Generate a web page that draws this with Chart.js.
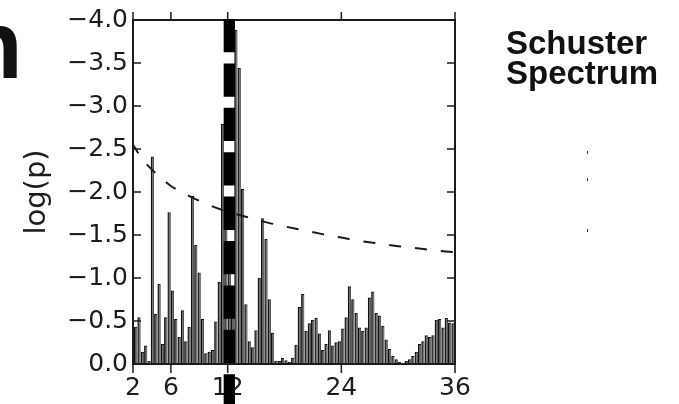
<!DOCTYPE html>
<html>
<head>
<meta charset="utf-8">
<script src="https://cdn.jsdelivr.net/npm/chart.js@4.4.1/dist/chart.umd.min.js"></script>
<style>
  html, body { margin: 0; padding: 0; background: #fff; }
  #wrap { position: relative; width: 679px; height: 404px; overflow: hidden; }
  canvas { position: absolute; left: 0; top: 0; }
  .side-title { position: absolute; left: 506px; top: 28px; font: bold 33px/30px 'Liberation Sans', Arial, sans-serif; color: #111; }
  .cut-letter { position: absolute; left: -36px; top: -3px; font: bold 96px/96px 'Liberation Sans', Arial, sans-serif; color: #111; }
  .speck { position: absolute; left: 587px; width: 1px; height: 3px; background: #333; }
</style>
</head>
<body>
<div id="wrap">
  <canvas id="spectrum" width="679" height="404"></canvas>
  <div class="cut-letter">n</div>
  <div class="side-title">Schuster<br>Spectrum</div>
  <div class="speck" style="top:151px"></div>
  <div class="speck" style="top:178px"></div>
  <div class="speck" style="top:229px"></div>
</div>
<script>
// periods of the spectrum bars (x) and their log(p) values
const periods = [
  2.28, 2.63, 2.99, 3.34, 3.69, 4.04, 4.40, 4.75, 5.10, 5.45, 5.81, 6.16,
  6.51, 6.87, 7.22, 7.57, 7.92, 8.28, 8.63, 8.98, 9.33, 9.69, 10.04, 10.39,
  10.74, 11.10, 11.45, 11.80, 12.16, 12.51, 12.86, 13.21, 13.57, 13.92, 14.27, 14.62,
  14.98, 15.33, 15.68, 16.04, 16.39, 16.74, 17.09, 17.45, 17.80, 18.15, 18.50, 18.86,
  19.21, 19.56, 19.92, 20.27, 20.62, 20.97, 21.33, 21.68, 22.03, 22.38, 22.74, 23.09,
  23.44, 23.79, 24.15, 24.50, 24.85, 25.21, 25.56, 25.91, 26.26, 26.62, 26.97, 27.32,
  27.67, 28.03, 28.38, 28.73, 29.09, 29.44, 29.79, 30.14, 30.50, 30.85, 31.20, 31.55,
  31.91, 32.26, 32.61, 32.96, 33.32, 33.67, 34.02, 34.38, 34.73, 35.08, 35.43, 35.79
];
const logP = [
  -0.43, -0.54, -0.14, -0.21, -0.03, -2.41, -0.58, -0.93, -0.23, -0.54, -1.76, -0.85,
  -0.52, -0.31, -0.62, -0.26, -0.43, -1.95, -1.38, -1.06, -0.52, -0.12, -0.14, -0.16,
  -0.49, -0.95, -2.79, -1.75, -1.10, -0.60, -3.88, -3.44, -2.03, -0.69, -0.26, -0.19,
  -0.39, -1.00, -1.69, -1.45, -0.75, -0.36, -0.03, -0.03, -0.07, -0.04, -0.02, -0.07,
  -0.22, -0.66, -0.81, -0.38, -0.47, -0.51, -0.53, -0.35, -0.16, -0.23, -0.39, -0.21,
  -0.25, -0.26, -0.41, -0.54, -0.90, -0.75, -0.59, -0.42, -0.38, -0.42, -0.77, -0.84,
  -0.59, -0.56, -0.44, -0.28, -0.17, -0.09, -0.05, -0.02, -0.01, -0.03, -0.05, -0.09,
  -0.14, -0.23, -0.26, -0.33, -0.31, -0.33, -0.51, -0.52, -0.42, -0.53, -0.48, -0.47
];

// significance threshold curve
const curvePeriods = [2, 3, 4, 5, 6, 8, 10, 12, 14, 16, 18, 20, 22, 24, 26, 28, 30, 32, 34, 36];
const curveLogP = [-2.55, -2.38, -2.26, -2.16, -2.07, -1.95, -1.85, -1.77, -1.71, -1.65,
  -1.60, -1.555, -1.51, -1.47, -1.43, -1.40, -1.37, -1.345, -1.32, -1.30];

// highlighted period (thick dashed vertical line)
const markedPeriod = 12.17;

const xTicks = [2, 6, 12, 24, 36];
const yTicks = [0, -0.5, -1.0, -1.5, -2.0, -2.5, -3.0, -3.5, -4.0];

const tickFont = { family: 'DejaVu Sans', size: 25 };
const ink = '#1c1c1c';

// box, inward y ticks, outward x ticks and the marker line
const framePlugin = {
  id: 'frame',
  afterDraw(chart) {
    const { ctx, chartArea: a, scales: { x, y } } = chart;
    ctx.save();
    ctx.strokeStyle = ink;
    ctx.lineWidth = 1.5;
    ctx.beginPath();
    y.ticks.forEach(t => {
      const py = y.getPixelForValue(t.value);
      ctx.moveTo(a.left, py); ctx.lineTo(a.left + 8, py);
      ctx.moveTo(a.right - 8, py); ctx.lineTo(a.right, py);
    });
    x.ticks.forEach(t => {
      const px = x.getPixelForValue(t.value);
      ctx.moveTo(px, a.top - 8); ctx.lineTo(px, a.top);
      ctx.moveTo(px, a.bottom); ctx.lineTo(px, a.bottom + 9);
    });
    ctx.stroke();
    ctx.lineWidth = 2;
    ctx.strokeRect(a.left, a.top, a.right - a.left, a.bottom - a.top);

    const mx = x.getPixelForValue(markedPeriod);
    ctx.strokeStyle = '#000';
    ctx.lineWidth = 11.3;
    ctx.setLineDash([33.3, 11.1]);
    ctx.beginPath();
    ctx.moveTo(mx, a.top - 1);
    ctx.lineTo(mx, chart.height);
    ctx.stroke();
    ctx.restore();
  }
};

new Chart(document.getElementById('spectrum'), {
  type: 'bar',
  data: {
    datasets: [
      {
        type: 'line',
        data: curvePeriods.map((p, i) => ({ x: p, y: curveLogP[i] })),
        borderColor: '#1a1a1a',
        borderWidth: 2,
        borderDash: [12, 14],
        borderDashOffset: 2,
        pointRadius: 0,
        fill: false,
        cubicInterpolationMode: 'monotone',
        order: 0
      },
      {
        type: 'bar',
        data: periods.map((p, i) => ({ x: p, y: logP[i] })),
        backgroundColor: '#777',
        borderColor: '#111',
        borderWidth: { left: 1.3, top: 1, right: 0.4, bottom: 0 },
        barThickness: 2.6,
        order: 1
      }
    ]
  },
  options: {
    responsive: false,
    animation: false,
    devicePixelRatio: 1,
    layout: { padding: { top: 15, right: 224, left: 0, bottom: 0 } },
    plugins: { legend: { display: false }, tooltip: { enabled: false } },
    scales: {
      x: {
        type: 'linear',
        min: 2,
        max: 36,
        offset: false,
        grid: { display: false, drawTicks: false },
        border: { display: false },
        afterBuildTicks: s => { s.ticks = xTicks.map(v => ({ value: v })); },
        afterFit: s => { s.height = 40; },
        ticks: {
          padding: 9,
          color: ink,
          font: tickFont,
          maxRotation: 0,
          autoSkip: false,
          callback: v => String(v)
        }
      },
      y: {
        type: 'linear',
        min: -4,
        max: 0,
        reverse: true,
        grid: { display: false, drawTicks: false },
        border: { display: false },
        afterBuildTicks: s => { s.ticks = yTicks.map(v => ({ value: v })); },
        afterFit: s => { s.width = 133; },
        ticks: {
          padding: 5,
          color: ink,
          font: tickFont,
          callback: v => v === 0 ? '0.0' : '\u2212' + Math.abs(v).toFixed(1)
        },
        title: {
          display: true,
          text: 'log(p)',
          color: ink,
          font: { family: 'DejaVu Sans', size: 29 },
          padding: { top: 20, bottom: 0 }
        }
      }
    }
  },
  plugins: [framePlugin]
});
</script>
</body>
</html>
